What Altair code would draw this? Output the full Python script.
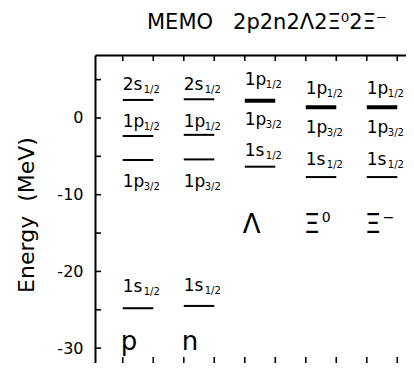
import altair as alt
import pandas as pd

# ---- data ----
particle_col = [1, 2, 3, 4, 5]
particle_base = ["p", "n", "Λ", "Ξ", "Ξ"]
particle_sup = ["", "", "", "0", "\u2212"]
particle_label_energy = [-30.3, -30.3, -15.0, -15.0, -15.0]

level_col = [1, 1, 1, 1, 2, 2, 2, 2, 3, 3, 3, 4, 4, 4, 5, 5, 5]
level_main = ["2s", "1p", "1p", "1s", "2s", "1p", "1p", "1s",
              "1p", "1p", "1s", "1p", "1p", "1s", "1p", "1p", "1s"]
level_sub = ["1/2", "1/2", "3/2", "1/2", "1/2", "1/2", "3/2", "1/2",
             "1/2", "3/2", "1/2", "1/2", "3/2", "1/2", "1/2", "3/2", "1/2"]
level_energy = [2.35, -2.35, -5.48, -24.8, 2.44, -2.2, -5.4, -24.5,
                2.25, 2.25, -6.35, 1.4, 1.4, -7.7, 1.4, 1.4, -7.7]
label_energy = [3.65, -1.21, -9.0, -22.65, 3.65, -1.17, -9.0, -22.5,
                4.3, -0.9, -4.95, 3.13, -1.96, -6.13, 3.13, -1.96, -6.13]

y_ticks = [5, 0, -5, -10, -15, -20, -25, -30]
y_labels = [0, -10, -20, -30]

title_text = "MEMO\u00a0\u00a0\u00a02p2n2Λ2Ξ⁰2Ξ⁻"
y_title = ["Energy\u00a0\u00a0(MeV)"]

FONT = "DejaVu Sans"
W, H = 311, 308

levels = pd.DataFrame({"col": level_col, "main": level_main, "sub": level_sub,
                       "energy": level_energy, "lab": label_energy})
parts = pd.DataFrame({"col": particle_col, "name": particle_base, "sup": particle_sup,
                      "lab": particle_label_energy})
edges = pd.DataFrame({"col": particle_col})
yt = pd.DataFrame({"v": y_ticks})
ytitle = pd.DataFrame({"t": y_title})

xscale = alt.Scale(domain=[0.295, 5.393], nice=False, zero=False)
yscale = alt.Scale(domain=[-31.94, 8.21], nice=False, zero=False)

xaxis = alt.Axis(orient="top", labels=False, ticks=False, grid=False, domain=True,
                 domainColor="black", domainWidth=2, title=None)
yaxis = alt.Axis(values=y_labels, ticks=False, grid=False, domain=True,
                 domainColor="black", domainWidth=2,
                 labelFont=FONT, labelFontSize=16, labelColor="black", labelPadding=12,
                 labelExpr="replace(datum.label, '\u2212', '-')", title=None)

# energy levels (degenerate levels drawn thicker)
lines = alt.Chart(levels).transform_aggregate(
    count="count()", groupby=["col", "energy"]
).transform_calculate(
    x0="datum.col - 0.25", x1="datum.col + 0.25"
).mark_rule(color="black").encode(
    x=alt.X("x0:Q", scale=xscale, axis=xaxis),
    x2="x1:Q",
    y=alt.Y("energy:Q", scale=yscale, axis=yaxis),
    strokeWidth=alt.StrokeWidth("count:Q", scale=alt.Scale(domain=[1, 2], range=[2, 4]),
                                legend=None),
)

main_txt = alt.Chart(levels).transform_calculate(x0="datum.col - 0.25").mark_text(
    align="left", baseline="alphabetic", font=FONT, fontSize=17, color="black"
).encode(
    x=alt.X("x0:Q", scale=xscale, axis=xaxis),
    y=alt.Y("lab:Q", scale=yscale, axis=yaxis),
    text="main:N",
)

sub_txt = alt.Chart(levels).transform_calculate(x0="datum.col - 0.25").mark_text(
    align="left", baseline="alphabetic", font=FONT, fontSize=10, color="black",
    dx=21, dy=3
).encode(
    x=alt.X("x0:Q", scale=xscale, axis=xaxis),
    y=alt.Y("lab:Q", scale=yscale, axis=yaxis),
    text="sub:N",
)

part_txt = alt.Chart(parts).transform_calculate(x0="datum.col - 0.25").mark_text(
    align="left", baseline="alphabetic", font=FONT, fontSize=26, color="black", dx=-2
).encode(
    x=alt.X("x0:Q", scale=xscale, axis=xaxis),
    y=alt.Y("lab:Q", scale=yscale, axis=yaxis),
    text="name:N",
)

part_sup = alt.Chart(parts).transform_calculate(x0="datum.col - 0.25").mark_text(
    align="left", baseline="alphabetic", font=FONT, fontSize=14, color="black",
    dx=16, dy=-11
).encode(
    x=alt.X("x0:Q", scale=xscale, axis=xaxis),
    y=alt.Y("lab:Q", scale=yscale, axis=yaxis),
    text="sup:N",
)

# inward ticks: top and bottom pairs bracketing each column, left minor/major
edge_base = alt.Chart(edges).transform_calculate(
    lo="datum.col - 0.25", hi="datum.col + 0.25"
).transform_fold(["lo", "hi"], as_=["side", "xv"])

top_ticks = edge_base.mark_rule(color="black", strokeWidth=1.6).encode(
    x=alt.X("xv:Q", scale=xscale, axis=xaxis),
    y=alt.value(0), y2=alt.value(6),
)
bot_ticks = edge_base.mark_rule(color="black", strokeWidth=1.6).encode(
    x=alt.X("xv:Q", scale=xscale, axis=xaxis),
    y=alt.value(H - 6), y2=alt.value(H),
)
left_ticks = alt.Chart(yt).mark_rule(color="black", strokeWidth=1.6).encode(
    y=alt.Y("v:Q", scale=yscale, axis=yaxis),
    x=alt.value(0), x2=alt.value(6),
)

y_title_txt = alt.Chart(ytitle).mark_text(
    angle=270, align="center", baseline="middle", font=FONT, fontSize=22, color="black"
).encode(
    x=alt.value(-68), y=alt.value(160), text="t:N",
)

chart = alt.layer(
    lines, main_txt, sub_txt, part_txt, part_sup, top_ticks, bot_ticks, left_ticks,
    y_title_txt
).properties(
    width=W, height=H,
    title=alt.Title(title_text, anchor="start", frame="group", dx=52, offset=4, font=FONT,
                    fontSize=21, fontWeight="normal", color="black",
                    baseline="alphabetic"),
    autosize=alt.AutoSizeParams(type="none"),
    padding={"left": 87, "top": 47, "right": 0, "bottom": 0},
    background="white",
).configure_view(strokeWidth=0)

chart.save("out.html", embed_options={"renderer": "svg", "actions": False})
